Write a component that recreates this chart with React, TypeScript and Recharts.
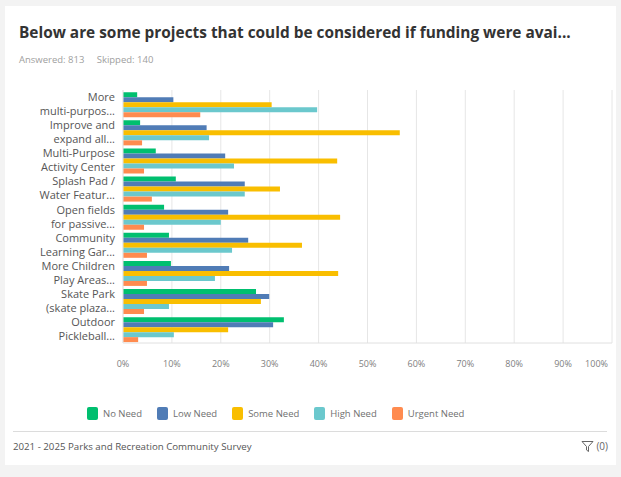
import React from "react";
import { BarChart, Bar, XAxis, YAxis, CartesianGrid, Legend } from "recharts";

const projects = [
  "More\nmulti-purpos...",
  "Improve and\nexpand all...",
  "Multi-Purpose\nActivity Center",
  "Splash Pad /\nWater Featur...",
  "Open fields\nfor passive...",
  "Community\nLearning Gar...",
  "More Children\nPlay Areas...",
  "Skate Park\n(skate plaza...",
  "Outdoor\nPickleball...",
];

const noNeed = [2.9, 3.5, 6.7, 10.8, 8.4, 9.4, 9.8, 27.2, 32.9];
const lowNeed = [10.3, 17.1, 20.9, 24.9, 21.5, 25.6, 21.7, 29.9, 30.7];
const someNeed = [30.4, 56.6, 43.8, 32.1, 44.4, 36.6, 44.0, 28.2, 21.5];
const highNeed = [39.7, 17.6, 22.7, 24.9, 20.0, 22.3, 18.8, 9.4, 10.4];
const urgentNeed = [15.8, 3.9, 4.3, 5.9, 4.3, 4.9, 4.9, 4.3, 3.1];

const xTicks = [0, 10, 20, 30, 40, 50, 60, 70, 80, 90, 100];

const SERIES = [
  { key: "noNeed", name: "No Need", color: "#00bf6f" },
  { key: "lowNeed", name: "Low Need", color: "#507cb6" },
  { key: "someNeed", name: "Some Need", color: "#f9be00" },
  { key: "highNeed", name: "High Need", color: "#6bc8cd" },
  { key: "urgentNeed", name: "Urgent Need", color: "#ff8b4f" },
];

const data = projects.map((name, i) => ({
  name,
  noNeed: noNeed[i],
  lowNeed: lowNeed[i],
  someNeed: someNeed[i],
  highNeed: highNeed[i],
  urgentNeed: urgentNeed[i],
}));

const FONT = "'Open Sans', sans-serif";

function ProjectTick({ x, y, payload }: any) {
  const [a, b] = String(payload.value).split("\n");
  return (
    <text x={x} y={y} textAnchor="end" fontFamily={FONT} fontSize={11} fill="#555">
      <tspan x={x} dy={-3}>{a}</tspan>
      <tspan x={x} dy={14}>{b}</tspan>
    </text>
  );
}

function PercentTick({ x, y, payload }: any) {
  const last = payload.value === 100;
  return (
    <text
      x={last ? x - 4 : x}
      y={y + 24}
      textAnchor={last ? "end" : "middle"}
      fontFamily={FONT}
      fontSize={9}
      fill="#808080"
    >
      {payload.value}%
    </text>
  );
}

// legend sits left of centre in the original
function LegendBox() {
  return (
    <div style={{ display: "flex", paddingLeft: 82, gap: 15, fontFamily: FONT, fontSize: 9.5, color: "#707070" }}>
      {SERIES.map((s) => (
        <div key={s.key} style={{ display: "flex", alignItems: "center" }}>
          <span style={{ width: 11, height: 13, borderRadius: 2, background: s.color, marginRight: 5, display: "inline-block" }} />
          {s.name}
        </div>
      ))}
    </div>
  );
}

export default function App() {
  return (
    <div style={{ position: "fixed", left: 0, top: 0, width: 621, height: 477, background: "#f3f3f3" }}>
      <div style={{ position: "absolute", left: 5, top: 6, width: 611, height: 459, background: "#fff" }}>
        <div style={{ position: "absolute", left: 14, top: 16, fontFamily: FONT, fontWeight: 700, fontSize: 15.4, color: "#333", whiteSpace: "nowrap" }}>
          Below are some projects that could be considered if funding were avai...
        </div>
        <div style={{ position: "absolute", left: 14, top: 47, fontFamily: FONT, fontSize: 9.5, color: "#a0a0a0", whiteSpace: "nowrap" }}>
          Answered: 813&nbsp;&nbsp;&nbsp;&nbsp;&nbsp;Skipped: 140
        </div>
        <div style={{ position: "absolute", left: 0, top: 74 }}>
          <BarChart
            width={611}
            height={350}
            data={data}
            layout="vertical"
            margin={{ top: 10, right: 4, bottom: 57, left: 8 }}
            barCategoryGap="8%"
            barGap={0}
          >
            <CartesianGrid horizontal={false} stroke="#e6e6e6" />
            <XAxis
              type="number"
              domain={[0, 100]}
              ticks={xTicks}
              interval={0}
              tickLine={false}
              tickSize={0}
              tickMargin={0}
              height={30}
              stroke="#e0e0e0"
              tick={<PercentTick />}
            />
            <YAxis
              type="category"
              dataKey="name"
              width={110}
              tickLine={false}
              tickSize={0}
              tickMargin={8}
              axisLine={{ stroke: "#e6e6e6" }}
              interval={0}
              tick={<ProjectTick />}
            />
            {SERIES.map((s) => (
              <Bar key={s.key} dataKey={s.key} name={s.name} fill={s.color} isAnimationActive={false} />
            ))}
            <Legend
              layout="horizontal"
              verticalAlign="middle"
              align="center"
              content={<LegendBox />}
              wrapperStyle={{ top: 327, left: 0, width: 611 }}
            />
          </BarChart>
        </div>
        <div style={{ position: "absolute", left: 8, top: 425, width: 594, height: 1, background: "#dcdcdc" }} />
        <div style={{ position: "absolute", left: 8, top: 434, fontFamily: FONT, fontSize: 9.7, color: "#555", whiteSpace: "nowrap" }}>
          2021 - 2025 Parks and Recreation Community Survey
        </div>
        <div style={{ position: "absolute", right: 8, top: 433, fontFamily: FONT, fontSize: 10, color: "#666", display: "flex", alignItems: "center" }}>
          <svg width="13" height="13" viewBox="0 0 13 13" style={{ marginRight: 2 }}>
            <path d="M1 1.5 H12 L7.5 6.5 V11.5 L5.5 10 V6.5 Z" fill="none" stroke="#666" strokeWidth="1" />
          </svg>
          (0)
        </div>
      </div>
    </div>
  );
}
